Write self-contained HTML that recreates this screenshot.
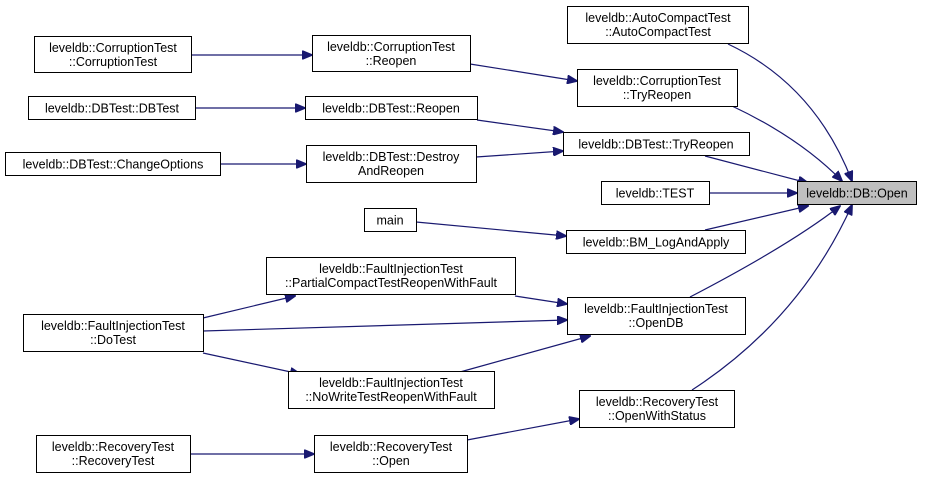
<!DOCTYPE html>
<html><head><meta charset="utf-8"><style>
html,body{margin:0;padding:0;background:#fff;width:932px;height:479px;overflow:hidden}
svg{display:block}
text{font-family:"Liberation Sans",Helvetica,Arial,sans-serif;font-size:12.5px;fill:#000}
rect{fill:#fff;stroke:#000;stroke-width:1}
path.e{fill:none;stroke:#191970;stroke-width:1.2}
</style></head><body>
<svg width="932" height="479" viewBox="0 0 932 479" xmlns="http://www.w3.org/2000/svg">
<defs><marker id="a" markerWidth="11" markerHeight="9" refX="10" refY="4.5" orient="auto" markerUnits="userSpaceOnUse"><path d="M0,0 L11,4.5 L0,9 z" fill="#191970" stroke="#191970"/></marker></defs>

<!-- edges -->
<g>
<path class="e" marker-end="url(#a)" d="M728,44 Q815,85 852,181"/>
<path class="e" marker-end="url(#a)" d="M732,106 Q800,138 842,181"/>
<path class="e" marker-end="url(#a)" d="M705,156 L808,183"/>
<path class="e" marker-end="url(#a)" d="M709,193 L797,193"/>
<path class="e" marker-end="url(#a)" d="M705,230 L808,206"/>
<path class="e" marker-end="url(#a)" d="M690,297 Q790,245 840,206"/>
<path class="e" marker-end="url(#a)" d="M692,390 Q800,320 852,205"/>
<path class="e" marker-end="url(#a)" d="M470,64 L577,81"/>
<path class="e" marker-end="url(#a)" d="M477,120 L563,132"/>
<path class="e" marker-end="url(#a)" d="M476,157 L563,151"/>
<path class="e" marker-end="url(#a)" d="M416,222 L566,236"/>
<path class="e" marker-end="url(#a)" d="M515,296 L567,304"/>
<path class="e" marker-end="url(#a)" d="M203,331 L567,320"/>
<path class="e" marker-end="url(#a)" d="M460,372 L590,336"/>
<path class="e" marker-end="url(#a)" d="M203,318 L295,296"/>
<path class="e" marker-end="url(#a)" d="M203,353 L300,374"/>
<path class="e" marker-end="url(#a)" d="M467,440 L579,419"/>
<path class="e" marker-end="url(#a)" d="M190,454 L314,454"/>
<path class="e" marker-end="url(#a)" d="M191,55 L312,55"/>
<path class="e" marker-end="url(#a)" d="M195,108 L305,108"/>
<path class="e" marker-end="url(#a)" d="M220,164 L306,164"/>
</g>

<!-- nodes -->
<g text-anchor="middle">
<rect x="797.5" y="181.5" width="119" height="23" style="fill:#bfbfbf"/><text x="857" y="197.5">leveldb::DB::Open</text>

<rect x="567.5" y="6.5" width="181" height="37"/><text x="658" y="22">leveldb::AutoCompactTest</text><text x="658" y="36">::AutoCompactTest</text>
<rect x="577.5" y="69.5" width="160" height="37"/><text x="657" y="85">leveldb::CorruptionTest</text><text x="657" y="99">::TryReopen</text>
<rect x="563.5" y="132.5" width="186" height="23"/><text x="656" y="148.5">leveldb::DBTest::TryReopen</text>
<rect x="601.5" y="181.5" width="108" height="23"/><text x="655" y="197.5">leveldb::TEST</text>
<rect x="566.5" y="230.5" width="179" height="23"/><text x="656" y="246.5">leveldb::BM_LogAndApply</text>
<rect x="567.5" y="297.5" width="178" height="37"/><text x="656" y="313">leveldb::FaultInjectionTest</text><text x="656" y="327">::OpenDB</text>
<rect x="579.5" y="390.5" width="155" height="37"/><text x="657" y="406">leveldb::RecoveryTest</text><text x="657" y="420">::OpenWithStatus</text>

<rect x="312.5" y="35.5" width="158" height="36"/><text x="391" y="51">leveldb::CorruptionTest</text><text x="391" y="65">::Reopen</text>
<rect x="305.5" y="96.5" width="172" height="23"/><text x="391" y="112.5">leveldb::DBTest::Reopen</text>
<rect x="306.5" y="145.5" width="170" height="37"/><text x="391" y="161">leveldb::DBTest::Destroy</text><text x="391" y="175">AndReopen</text>
<rect x="364.5" y="208.5" width="52" height="23"/><text x="390" y="224.5">main</text>
<rect x="266.5" y="257.5" width="249" height="37"/><text x="391" y="273">leveldb::FaultInjectionTest</text><text x="391" y="287">::PartialCompactTestReopenWithFault</text>
<rect x="288.5" y="371.5" width="206" height="37"/><text x="391" y="387">leveldb::FaultInjectionTest</text><text x="391" y="401">::NoWriteTestReopenWithFault</text>
<rect x="314.5" y="435.5" width="153" height="37"/><text x="391" y="451">leveldb::RecoveryTest</text><text x="391" y="465">::Open</text>

<rect x="34.5" y="36.5" width="157" height="36"/><text x="113" y="52">leveldb::CorruptionTest</text><text x="113" y="66">::CorruptionTest</text>
<rect x="28.5" y="96.5" width="167" height="23"/><text x="112" y="112.5">leveldb::DBTest::DBTest</text>
<rect x="5.5" y="152.5" width="215" height="23"/><text x="113" y="168.5">leveldb::DBTest::ChangeOptions</text>
<rect x="23.5" y="314.5" width="180" height="37"/><text x="113" y="330">leveldb::FaultInjectionTest</text><text x="113" y="344">::DoTest</text>
<rect x="36.5" y="435.5" width="154" height="37"/><text x="113" y="451">leveldb::RecoveryTest</text><text x="113" y="465">::RecoveryTest</text>
</g>
</svg>
</body></html>
